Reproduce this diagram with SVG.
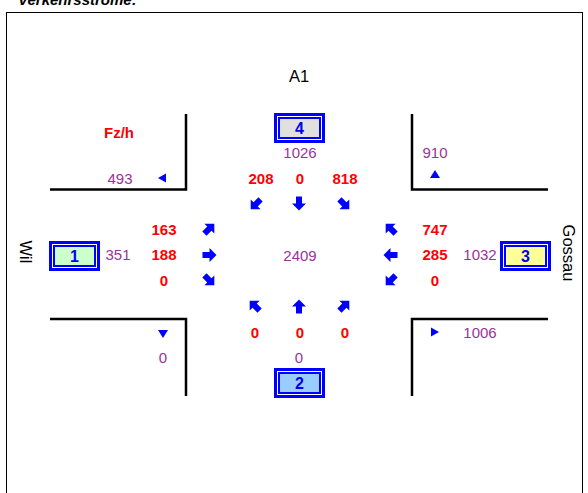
<svg xmlns="http://www.w3.org/2000/svg" width="588" height="493" viewBox="0 0 588 493">
<style>
text{font-family:"Liberation Sans",Arial,sans-serif;font-size:15px;text-anchor:middle}
.p{fill:#993399}
.r{fill:#ff0000;font-weight:bold}
.n{fill:#0000ee;font-weight:bold;font-size:16px}
.k{fill:#000}
.big{font-size:16.5px}
.wall{stroke:#000;stroke-width:2.5;fill:none}
.ob{fill:#fff;stroke:#0000ff;stroke-width:3}
.ib{stroke:#0000ff;stroke-width:2}
.tri{fill:#0000ff}
</style>
<defs>
<path id="ar" d="M0,-7.5 L7,-0.5 L3,-0.5 L3,6.5 L-3,6.5 L-3,-0.5 L-7,-0.5 Z" fill="#0000ff"/>
</defs>
<rect width="588" height="493" fill="#fff"/>
<text x="18" y="5" style="font-weight:bold;font-style:italic;text-anchor:start" class="k">Verkehrsströme:</text>
<rect x="6.5" y="12.5" width="576" height="490" fill="none" stroke="#000" stroke-width="1"/>
<g id="walls">
<path class="wall" d="M50,189.5 H186 V114"/>
<path class="wall" d="M412,114 V189.5 H548"/>
<path class="wall" d="M50,319 H186 V396"/>
<path class="wall" d="M412,396 V319 H548"/>
</g>
<text x="299" y="82" class="k big">A1</text>
<text x="119" y="138" class="r">Fz/h</text>
<text x="300" y="261" class="p">2409</text>
<g id="node4">
<rect class="ob" x="275.5" y="114.5" width="48" height="27"/>
<rect class="ib" x="279" y="118" width="41" height="20" fill="#e0e0e0"/>
<text x="299.5" y="134" class="n">4</text>
</g>
<g id="node1">
<rect class="ob" x="50.5" y="242.5" width="48" height="27"/>
<rect class="ib" x="54" y="246" width="41" height="20" fill="#ccffcc"/>
<text x="74.5" y="262" class="n">1</text>
</g>
<g id="node3">
<rect class="ob" x="501.5" y="242.5" width="48" height="27"/>
<rect class="ib" x="505" y="246" width="41" height="20" fill="#ffff99"/>
<text x="525.5" y="262" class="n">3</text>
</g>
<g id="node2">
<rect class="ob" x="275.5" y="369.5" width="48" height="27"/>
<rect class="ib" x="279" y="373" width="41" height="20" fill="#99ccff"/>
<text x="299.5" y="389" class="n">2</text>
</g>
<text transform="translate(20,252) rotate(90)" class="k big">Wil</text>
<text transform="translate(563,253) rotate(90)" class="k big">Gossau</text>
<g id="top">
<text x="300" y="158" class="p">1026</text>
<text x="261" y="184" class="r">208</text>
<text x="300" y="184" class="r">0</text>
<text x="345" y="184" class="r">818</text>
<use href="#ar" transform="translate(256,204) rotate(-135)"/>
<use href="#ar" transform="translate(299,203) rotate(180)"/>
<use href="#ar" transform="translate(344,204) rotate(135)"/>
<text x="435" y="158" class="p">910</text>
<path class="tri" d="M435,170 L440,178 L430,178 Z"/>
<text x="120" y="184" class="p">493</text>
<path class="tri" d="M158,178 L166,173.5 L166,182.5 Z"/>
</g>
<g id="left">
<text x="164" y="235" class="r">163</text>
<text x="164" y="260" class="r">188</text>
<text x="164" y="286" class="r">0</text>
<text x="118" y="260" class="p">351</text>
<use href="#ar" transform="translate(209,229) rotate(45)"/>
<use href="#ar" transform="translate(209,255) rotate(90)"/>
<use href="#ar" transform="translate(209,280) rotate(135)"/>
</g>
<g id="right">
<text x="435" y="235" class="r">747</text>
<text x="435" y="260" class="r">285</text>
<text x="435" y="286" class="r">0</text>
<text x="480" y="260" class="p">1032</text>
<use href="#ar" transform="translate(391,229) rotate(-45)"/>
<use href="#ar" transform="translate(391,255) rotate(-90)"/>
<use href="#ar" transform="translate(391,280) rotate(-135)"/>
</g>
<g id="bottom">
<use href="#ar" transform="translate(255,306) rotate(-45)"/>
<use href="#ar" transform="translate(299,307)"/>
<use href="#ar" transform="translate(344,306) rotate(45)"/>
<text x="255" y="338" class="r">0</text>
<text x="300" y="338" class="r">0</text>
<text x="345" y="338" class="r">0</text>
<text x="299" y="363" class="p">0</text>
<path class="tri" d="M163,338 L158,330 L168,330 Z"/>
<text x="163" y="363" class="p">0</text>
<path class="tri" d="M439,332 L431,327.5 L431,336.5 Z"/>
<text x="480" y="338" class="p">1006</text>
</g>
</svg>
